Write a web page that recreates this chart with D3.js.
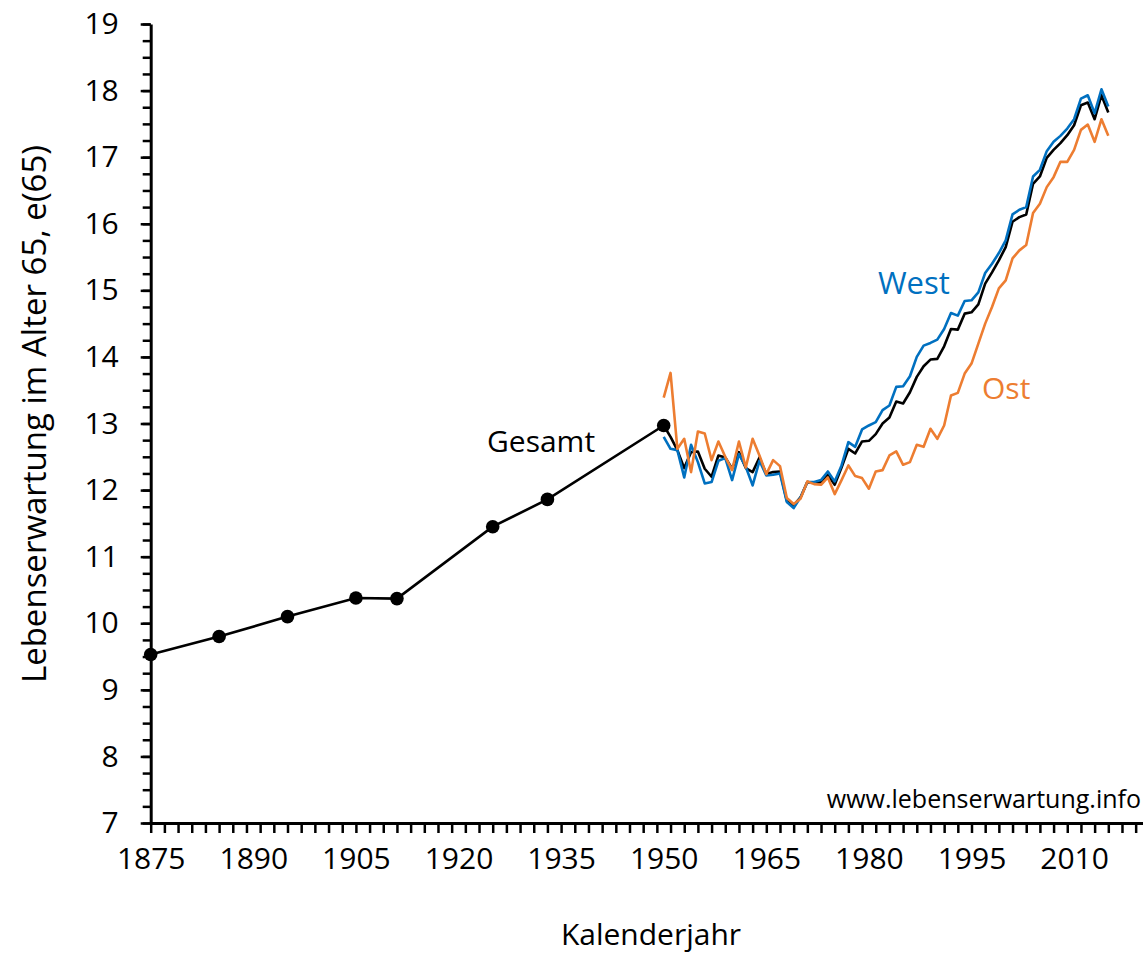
<!DOCTYPE html>
<html>
<head>
<meta charset="utf-8">
<script src="https://cdn.jsdelivr.net/npm/d3@7"></script>
<style>
  body { margin: 0; background: #fff; }
  svg text { font-family: "Open Sans", Lato, sans-serif; }
</style>
</head>
<body>
<div id="chart"></div>
<script>
//---------------------------------- Data --------------------
// historic life tables (Gesamt), mid-year of each table period
var histYears = [1875, 1885, 1895, 1905, 1911, 1925, 1933, 1950];
var histValues = [9.53, 9.80, 10.10, 10.38, 10.37, 11.45, 11.86, 12.97];

// annual series 1950 - 2015
var years = d3.range(1950, 2016);
var gesamt = [12.97, 12.80, 12.60, 12.33, 12.57, 12.58, 12.32, 12.20, 12.52, 12.49,
              12.32, 12.57, 12.33, 12.27, 12.49, 12.24, 12.27, 12.28, 11.84, 11.77,
              11.89, 12.12, 12.11, 12.12, 12.23, 12.08, 12.34, 12.62, 12.55, 12.73,
              12.74, 12.84, 13.00, 13.09, 13.33, 13.30, 13.47, 13.70, 13.86, 13.96,
              13.97, 14.16, 14.42, 14.41, 14.65, 14.67, 14.79, 15.10, 15.27, 15.45,
              15.65, 16.03, 16.10, 16.14, 16.60, 16.71, 16.99, 17.11, 17.21, 17.33,
              17.48, 17.78, 17.82, 17.57, 17.93, 17.67];
var west = [12.80, 12.62, 12.60, 12.19, 12.68, 12.42, 12.10, 12.12, 12.44, 12.48,
            12.15, 12.54, 12.35, 12.07, 12.44, 12.22, 12.23, 12.25, 11.82, 11.73,
            11.89, 12.12, 12.12, 12.15, 12.28, 12.13, 12.37, 12.72, 12.65, 12.91,
            12.97, 13.02, 13.20, 13.27, 13.55, 13.56, 13.71, 14.00, 14.17, 14.21,
            14.26, 14.42, 14.66, 14.62, 14.84, 14.85, 14.97, 15.26, 15.40, 15.56,
            15.75, 16.14, 16.21, 16.25, 16.71, 16.81, 17.09, 17.23, 17.32, 17.43,
            17.57, 17.88, 17.93, 17.66, 18.02, 17.76];
var ost = [13.39, 13.76, 12.62, 12.77, 12.27, 12.88, 12.85, 12.45, 12.73, 12.50,
           12.30, 12.73, 12.34, 12.77, 12.52, 12.24, 12.45, 12.36, 11.88, 11.79,
           11.87, 12.13, 12.09, 12.08, 12.19, 11.94, 12.15, 12.37, 12.21, 12.18,
           12.02, 12.28, 12.30, 12.52, 12.58, 12.38, 12.42, 12.68, 12.65, 12.92,
           12.77, 12.97, 13.42, 13.46, 13.75, 13.90, 14.20, 14.50, 14.75, 15.03,
           15.15, 15.48, 15.60, 15.68, 16.16, 16.30, 16.55, 16.70, 16.93, 16.93,
           17.11, 17.41, 17.49, 17.23, 17.57, 17.32];

var xLabelYears = d3.range(1875, 2011, 15);
var xTickYears = d3.range(1875, 2020, 2);
var yMajor = d3.range(7, 19.01, 1);
var yMinor = d3.range(7, 19.01, 0.25);

//---------------------------------- Layout --------------------
var width = 1148, height = 953;

var svg = d3.select("#chart").append("svg")
    .attr("width", width)
    .attr("height", height);

var x_scale = d3.scaleLinear().domain([1875, 2020]).range([150.7, 1142.5]);
var y_scale = d3.scaleLinear().domain([7, 19]).range([823, 24]);

//---------------------------------- Axes --------------------
// minor ticks on x, every 2 years
svg.append("g")
    .attr("class", "x_ticks")
    .attr("transform", "translate(0," + y_scale(7) + ")")
    .call(d3.axisBottom(x_scale).tickValues(xTickYears).tickFormat("").tickSize(10).tickSizeOuter(0));

// x labels every 15 years
svg.append("g")
    .attr("class", "x_labels")
    .attr("transform", "translate(0," + y_scale(7) + ")")
    .call(d3.axisBottom(x_scale).tickValues(xLabelYears).tickFormat(d3.format("d")).tickSize(0).tickPadding(25));

svg.append("g")
    .attr("class", "y_minor")
    .attr("transform", "translate(" + x_scale(1875) + ",0)")
    .call(d3.axisLeft(y_scale).tickValues(yMinor).tickFormat("").tickSize(8).tickSizeOuter(0));

svg.append("g")
    .attr("class", "y_major")
    .attr("transform", "translate(" + x_scale(1875) + ",0)")
    .call(d3.axisLeft(y_scale).tickValues(yMajor).tickFormat(d3.format("d")).tickSize(10).tickPadding(22).tickSizeOuter(0));

svg.selectAll(".domain").attr("stroke", "#000").attr("stroke-width", 3);
svg.selectAll(".tick line").attr("stroke", "#000").attr("stroke-width", 2.5);
svg.selectAll(".x_labels .domain, .y_minor .domain").remove();
svg.selectAll(".x_labels text, .y_major text")
    .attr("font-size", 30)
    .attr("fill", "#000")
    .style("font-family", "'Open Sans', sans-serif");

//---------------------------------- Lines --------------------
var line = d3.line()
    .x(function(d){ return x_scale(d[0]); })
    .y(function(d){ return y_scale(d[1]); });

var series = [
  {name: "Gesamt", values: gesamt, color: "#000000"},
  {name: "West", values: west, color: "#0070C0"},
  {name: "Ost", values: ost, color: "#ED7D31"}
];

svg.selectAll(".series")
    .data(series)
    .enter().append("path")
    .attr("class", "series")
    .attr("d", function(s){ return line(years.map(function(y, i){ return [y, s.values[i]]; })); })
    .attr("fill", "none")
    .attr("stroke", function(s){ return s.color; })
    .attr("stroke-width", 2.6)
    .attr("stroke-linejoin", "round");

var hist = histYears.map(function(y, i){ return [y, histValues[i]]; });

svg.append("path")
    .attr("d", line(hist))
    .attr("fill", "none")
    .attr("stroke", "#000")
    .attr("stroke-width", 2.6);

svg.selectAll(".datapoints")
    .data(hist)
    .enter().append("circle")
    .attr("class", "datapoints")
    .attr("cx", function(d){ return x_scale(d[0]); })
    .attr("cy", function(d){ return y_scale(d[1]); })
    .attr("r", 6.8)
    .attr("fill", "#000");

//---------------------------------- Texts --------------------
svg.append("text")
    .attr("x", 651).attr("y", 945)
    .attr("text-anchor", "middle")
    .attr("font-size", 30)
    .text("Kalenderjahr");

svg.append("text")
    .attr("transform", "translate(46,414) rotate(-90)")
    .attr("text-anchor", "middle")
    .attr("font-size", 33)
    .text("Lebenserwartung im Alter 65, e(65)");

svg.append("text")
    .attr("x", 487).attr("y", 452)
    .attr("font-size", 30)
    .text("Gesamt");

svg.append("text")
    .attr("x", 878).attr("y", 294)
    .attr("font-size", 31)
    .attr("fill", "#0070C0")
    .text("West");

svg.append("text")
    .attr("x", 982).attr("y", 399)
    .attr("font-size", 30)
    .attr("fill", "#ED7D31")
    .text("Ost");

svg.append("text")
    .attr("x", 1141).attr("y", 808)
    .attr("text-anchor", "end")
    .attr("font-size", 25)
    .text("www.lebenserwartung.info");
</script>
</body>
</html>
